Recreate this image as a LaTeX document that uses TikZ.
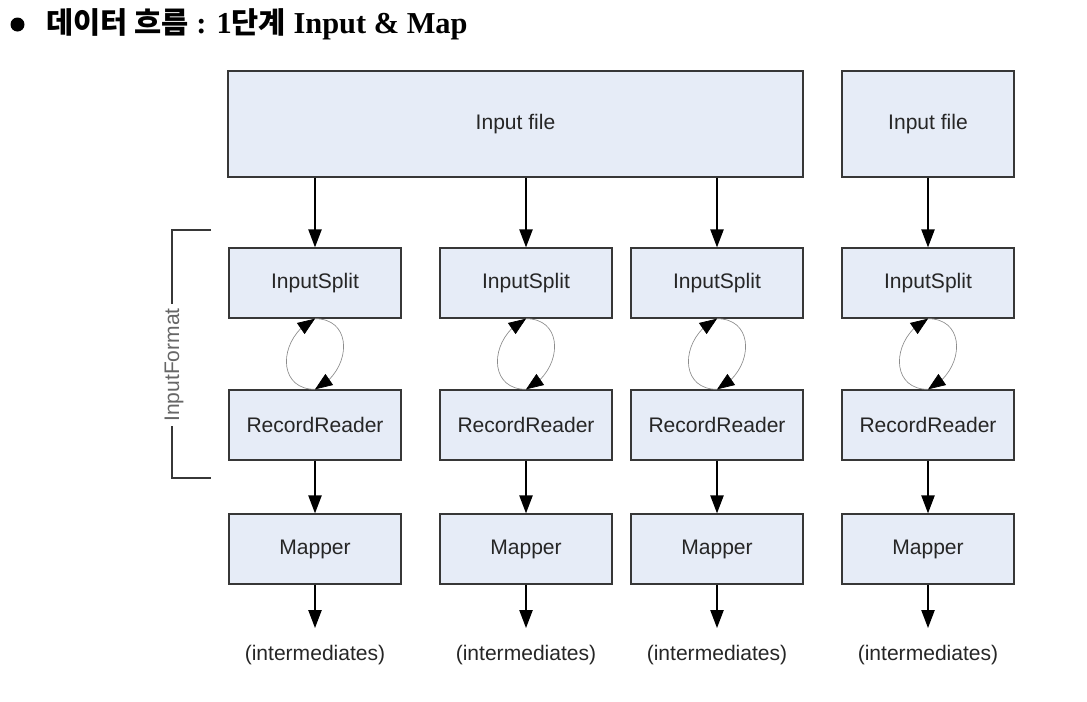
\documentclass[tikz,border=0pt]{standalone}
\usepackage{fontspec}
\setmainfont{Liberation Serif}
\newfontfamily\arial{Liberation Sans}
\newfontfamily\kr{Noto Sans CJK KR}[Scale=0.97]
\usetikzlibrary{arrows.meta,bending}
\definecolor{boxfill}{RGB}{230,236,247}
\definecolor{boxline}{RGB}{55,55,55}
\definecolor{loopgray}{RGB}{140,140,140}
\begin{document}
\begin{tikzpicture}[x=0.75pt,y=-0.75pt,
  box/.style={draw=boxline,line width=1pt,fill=boxfill,inner sep=0pt,
    minimum width=129pt,minimum height=52.5pt,
    font=\arial\fontsize{15.8}{18}\selectfont,text=black!85},
  bigbox/.style={box,minimum height=79.5pt},
  lbl/.style={font=\arial\fontsize{15.8}{18}\selectfont,text=black!85,inner sep=0pt},
  flow/.style={line width=1pt,-{Triangle[length=13.5pt,width=10pt]}},
  lp/.style={draw=loopgray,line width=0.5pt,-{Triangle[length=13pt,width=10pt,fill=black,color=black]}}]
\useasboundingbox (0,0) rectangle (1087,701);
% title
\node[circle,fill=black,inner sep=0pt,minimum size=10.5pt] (bullet) at (17.5,24.5) {};
\node[anchor=base west,inner sep=0pt,font=\bfseries\fontsize{22.8}{26}\selectfont] (title) at (46,33)
  {{\kr\bfseries 데이터 흐름} : 1{\kr\bfseries 단계} Input \& Map};
% input files
\node[bigbox,minimum width=431.25pt] (inf) at (515.5,124) {Input file};
\node[bigbox] (inf4) at (928,124) {Input file};
% columns
\foreach \i/\x in {1/315,2/526,3/717,4/928}{
  \node[box] (is\i) at (\x,283) {InputSplit};
  \node[box] (rr\i) at (\x,425) {RecordReader};
  \node[box] (mp\i) at (\x,549) {Mapper};
  \node[lbl] (im\i) at (\x,655) {(intermediates)};
  \coordinate (end\i) at (\x,628);
  \draw[flow] (rr\i) -- (mp\i);
  \draw[flow] (mp\i) -- (end\i);
  \draw[lp] (is\i.south) to[out=0,in=25,looseness=1.45] (rr\i.north);
  \draw[lp] (rr\i.north) to[out=180,in=205,looseness=1.45] (is\i.south);
}
\foreach \i in {1,2,3}{
  \draw[flow] (is\i.north |- inf.south) -- (is\i.north);
}
\draw[flow] (inf4) -- (is4);
% bracket
\draw[boxline,line width=0.8pt] (211,230) -- (172,230) -- (172,478) -- (211,478);
\node[lbl,rotate=90,fill=white,inner xsep=3pt,text=black!60] (ifmt) at (174,365) {InputFormat};
\end{tikzpicture}
\end{document}
